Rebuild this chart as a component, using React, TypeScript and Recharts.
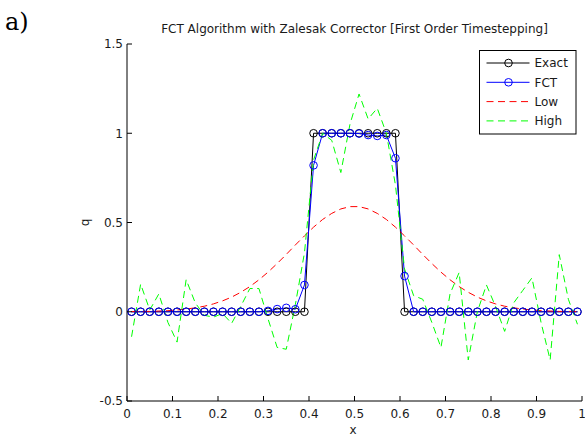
import React from 'react';
import { LineChart, Line, XAxis, YAxis, Legend } from 'recharts';

// cell centres
const xs = [
  0.01, 0.03, 0.05, 0.07, 0.09, 0.11, 0.13, 0.15, 0.17, 0.19,
  0.21, 0.23, 0.25, 0.27, 0.29, 0.31, 0.33, 0.35, 0.37, 0.39,
  0.41, 0.43, 0.45, 0.47, 0.49, 0.51, 0.53, 0.55, 0.57, 0.59,
  0.61, 0.63, 0.65, 0.67, 0.69, 0.71, 0.73, 0.75, 0.77, 0.79,
  0.81, 0.83, 0.85, 0.87, 0.89, 0.91, 0.93, 0.95, 0.97, 0.99,
];

const exact = [
  0, 0, 0, 0, 0, 0, 0, 0, 0, 0,
  0, 0, 0, 0, 0, 0, 0, 0, 0, 0,
  1, 1, 1, 1, 1, 1, 1, 1, 1, 1,
  0, 0, 0, 0, 0, 0, 0, 0, 0, 0,
  0, 0, 0, 0, 0, 0, 0, 0, 0, 0,
];

const fct = [
  0, 0, 0, 0, 0, 0, 0, 0, 0, 0,
  0, 0, 0, 0, 0, 0.005, 0.015, 0.022, 0.014, 0.15,
  0.82, 1.0, 1.0, 1.0, 1.0, 0.998, 0.99, 0.985, 0.99, 0.86,
  0.2, 0, 0, 0, 0, 0, 0, 0, 0, 0,
  0, 0, 0, 0, 0, 0, 0, 0, 0, 0,
];

const low = [
  0.001, 0.002, 0.002, 0.004, 0.006, 0.010, 0.015, 0.022, 0.031, 0.044,
  0.061, 0.082, 0.109, 0.141, 0.179, 0.222, 0.270, 0.321, 0.374, 0.425,
  0.474, 0.517, 0.551, 0.576, 0.589, 0.589, 0.576, 0.551, 0.517, 0.474,
  0.425, 0.374, 0.321, 0.270, 0.222, 0.179, 0.141, 0.109, 0.082, 0.061,
  0.044, 0.031, 0.022, 0.015, 0.010, 0.006, 0.004, 0.002, 0.002, 0.001,
];

const high = [
  -0.14, 0.155, 0.01, 0.10, -0.06, -0.17, 0.18, 0.05, -0.02, -0.03,
  -0.01, -0.065, 0.03, 0.13, 0.13, -0.04, -0.20, -0.21, 0.04, 0.33,
  0.85, 1.0, 0.96, 0.78, 1.05, 1.22, 1.08, 1.14, 1.0, 0.71,
  0.24, 0.09, 0.07, -0.06, -0.20, 0.10, 0.22, -0.27, 0.0, 0.15,
  0.03, -0.11, 0.05, 0.12, 0.19, -0.06, -0.27, 0.32, 0.07, -0.07,
];

const xTicks = [0, 0.1, 0.2, 0.3, 0.4, 0.5, 0.6, 0.7, 0.8, 0.9, 1];
const yTicks = [-0.5, 0, 0.5, 1, 1.5];

const data = xs.map((x, i) => ({
  x,
  exact: exact[i],
  fct: fct[i],
  low: low[i],
  high: high[i],
}));

const FONT = '"DejaVu Sans", sans-serif';
const INK = '#1a1a1a';
const DASH = '7 4.5';

const BottomTick = (props: any) => {
  const { x, y, payload } = props;
  return (
    <g>
      <line x1={x} y1={y} x2={x} y2={y - 5} stroke="#000" />
      <text x={x} y={y + 16.5} textAnchor="middle" fontSize={12} fontFamily={FONT} fill={INK}>
        {payload.value}
      </text>
    </g>
  );
};

const TopTick = (props: any) => {
  const { x, y } = props;
  return <line x1={x} y1={y} x2={x} y2={y + 5} stroke="#000" />;
};

const LeftTick = (props: any) => {
  const { x, y, payload } = props;
  return (
    <g>
      <line x1={x} y1={y} x2={x + 5} y2={y} stroke="#000" />
      <text x={x - 4} y={y + 4.4} textAnchor="end" fontSize={12} fontFamily={FONT} fill={INK}>
        {payload.value}
      </text>
    </g>
  );
};

const RightTick = (props: any) => {
  const { x, y } = props;
  return <line x1={x} y1={y} x2={x - 5} y2={y} stroke="#000" />;
};

const legendItems = [
  { name: 'Exact', color: '#000000', dash: undefined, marker: true },
  { name: 'FCT', color: '#0000ff', dash: undefined, marker: true },
  { name: 'Low', color: '#ff0000', dash: DASH, marker: false },
  { name: 'High', color: '#00ff00', dash: DASH, marker: false },
];

const renderLegend = () => (
  <svg width={98} height={85} style={{ display: 'block' }}>
    <rect x={0.5} y={0.5} width={96.5} height={83.5} fill="#fff" stroke="#000" />
    {legendItems.map((it, i) => {
      const cy = 13 + i * 19.3;
      return (
        <g key={it.name}>
          <line x1={7.5} x2={50.5} y1={cy} y2={cy} stroke={it.color} strokeDasharray={it.dash} />
          {it.marker && <circle cx={29.5} cy={cy} r={3.8} fill="none" stroke={it.color} />}
          <text x={55.5} y={cy + 4.4} fontSize={12} fontFamily={FONT} fill={INK}>
            {it.name}
          </text>
        </g>
      );
    })}
  </svg>
);

const App = () => {
  return (
    <div style={{ position: 'absolute', left: 0, top: 0, width: 585, height: 441, background: '#fff' }}>
      <LineChart width={585} height={441} data={data} margin={{ top: 44, right: 3, bottom: 0, left: 0 }}>
        <XAxis
          dataKey="x"
          type="number"
          domain={[0, 1]}
          ticks={xTicks}
          height={40}
          tickSize={0}
          tickMargin={0}
          tickLine={false}
          axisLine={{ stroke: '#000' }}
          tick={<BottomTick />}
          interval={0}
        />
        <XAxis
          xAxisId="top"
          orientation="top"
          dataKey="x"
          type="number"
          domain={[0, 1]}
          ticks={xTicks}
          height={0}
          tickSize={0}
          tickMargin={0}
          tickLine={false}
          axisLine={{ stroke: '#000' }}
          tick={<TopTick />}
          interval={0}
        />
        <YAxis
          type="number"
          domain={[-0.5, 1.5]}
          ticks={yTicks}
          width={127}
          tickSize={0}
          tickMargin={0}
          tickLine={false}
          axisLine={{ stroke: '#000' }}
          tick={<LeftTick />}
          interval={0}
        />
        <YAxis
          yAxisId="right"
          orientation="right"
          type="number"
          domain={[-0.5, 1.5]}
          ticks={yTicks}
          width={0}
          tickSize={0}
          tickMargin={0}
          tickLine={false}
          axisLine={{ stroke: '#000' }}
          tick={<RightTick />}
          interval={0}
        />
        <Legend
          layout="horizontal"
          verticalAlign="middle"
          align="center"
          content={renderLegend}
          wrapperStyle={{ position: 'absolute', left: 479, top: 50, width: 98, height: 85, margin: 0, padding: 0 }}
        />
        <Line
          type="linear"
          dataKey="exact"
          name="Exact"
          stroke="#000"
          strokeWidth={1}
          dot={{ r: 3.8, fill: 'none', stroke: '#000', strokeWidth: 1 }}
          isAnimationActive={false}
        />
        <Line
          type="linear"
          dataKey="fct"
          name="FCT"
          stroke="#0000ff"
          strokeWidth={1}
          dot={{ r: 3.8, fill: 'none', stroke: '#0000ff', strokeWidth: 1 }}
          isAnimationActive={false}
        />
        <Line
          type="linear"
          dataKey="low"
          name="Low"
          stroke="#ff0000"
          strokeWidth={1}
          strokeDasharray={DASH}
          dot={false}
          isAnimationActive={false}
        />
        <Line
          type="linear"
          dataKey="high"
          name="High"
          stroke="#00ff00"
          strokeWidth={1}
          strokeDasharray={DASH}
          dot={false}
          isAnimationActive={false}
        />
      </LineChart>
      <svg
        width={585}
        height={441}
        style={{ position: 'absolute', left: 0, top: 0, pointerEvents: 'none' }}
      >
        <text x={5} y={30} fontSize={24} fontFamily='"DejaVu Serif", serif' fill="#000">
          a)
        </text>
        <text x={354.5} y={33} textAnchor="middle" fontSize={12} fontFamily={FONT} fill={INK}>
          FCT Algorithm with Zalesak Corrector [First Order Timestepping]
        </text>
        <text x={353} y={434} textAnchor="middle" fontSize={12} fontFamily={FONT} fill={INK}>
          x
        </text>
        <text
          transform="translate(88.5,222.5) rotate(-90)"
          textAnchor="middle"
          fontSize={12}
          fontFamily={FONT}
          fill={INK}
        >
          q
        </text>
      </svg>
    </div>
  );
};

export default App;
